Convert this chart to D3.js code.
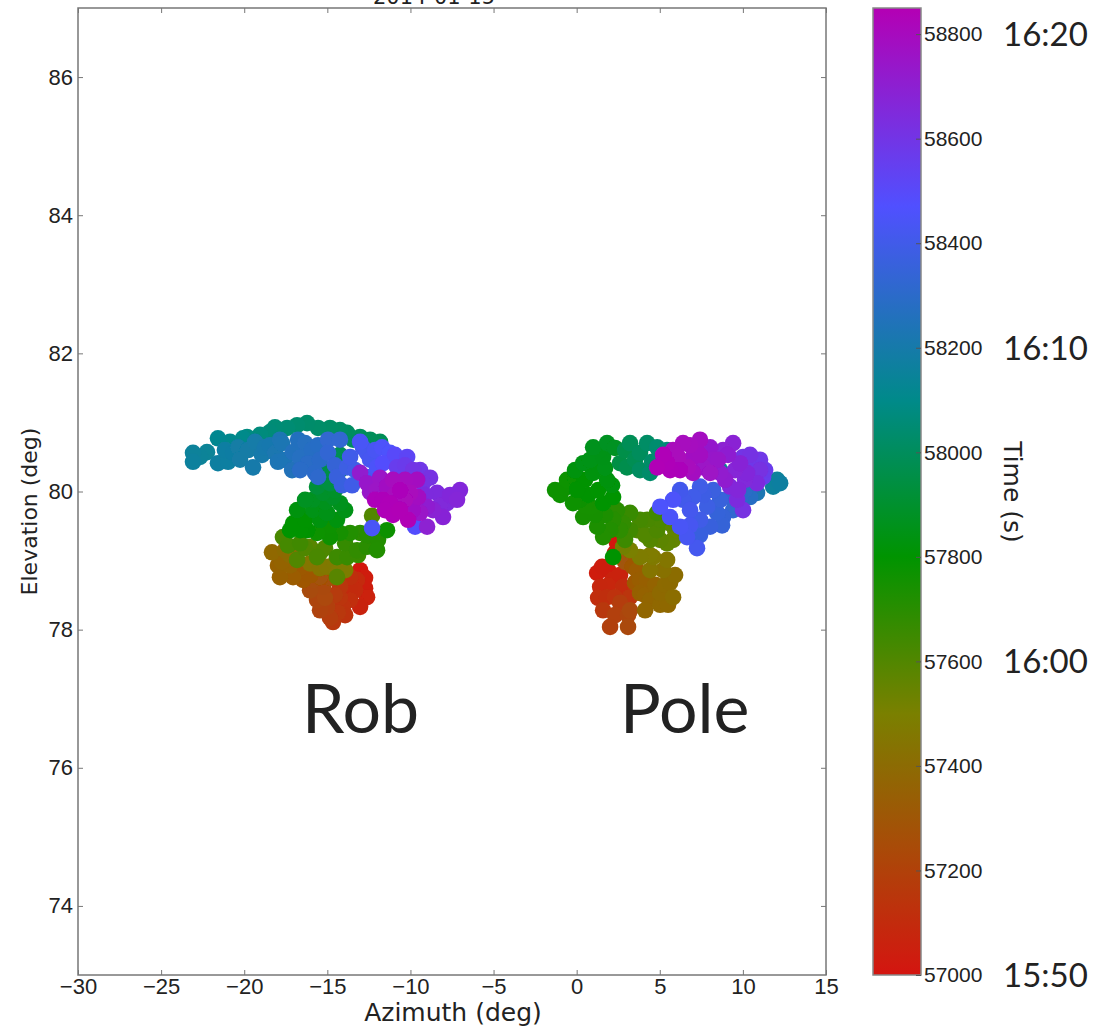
<!DOCTYPE html>
<html>
<head>
<meta charset="utf-8">
<script src="https://cdn.jsdelivr.net/npm/d3@7"></script>
<style>
  body { margin: 0; background: #fff; }
  svg text { fill: #222; }
</style>
</head>
<body>
<div id="chart"></div>
<script>
// azimuth / elevation / time (s) per detection
const robPoints = [
  [-13.03, 78.86, 57010], [-12.73, 78.75, 57030], [-12.61, 78.47, 57050], [-13.03, 78.33, 57070],
  [-13.21, 78.72, 57090], [-13.63, 78.57, 57100], [-13.63, 78.76, 57120], [-14.06, 78.33, 57130],
  [-14.24, 78.62, 57150], [-14.66, 78.11, 57160], [-14.84, 78.17, 57180], [-15.02, 78.33, 57200],
  [-15.62, 78.43, 57220], [-15.26, 78.62, 57240], [-15.86, 78.72, 57260], [-15.44, 78.76, 57280],
  [-16.46, 78.72, 57300], [-16.64, 78.89, 57310], [-17.06, 78.76, 57320], [-17.85, 78.76, 57340],
  [-17.73, 78.98, 57360], [-18.33, 79.12, 57380], [-17.55, 79.15, 57400], [-16.82, 79.11, 57420],
  [-16.04, 78.96, 57440], [-15.02, 78.91, 57460], [-14.42, 78.82, 57480],
  [-14.42, 78.76, 57580], [-16.04, 79.20, 57580], [-16.82, 79.01, 57600], [-15.44, 79.11, 57600],
  [-12.31, 79.65, 57600], [-17.67, 79.34, 57620], [-15.62, 79.05, 57620], [-16.64, 79.25, 57640],
  [-14.42, 79.05, 57650], [-13.81, 79.05, 57660], [-13.21, 79.15, 57680], [-12.61, 79.20, 57700],
  [-13.03, 79.40, 57700], [-12.01, 79.15, 57720], [-13.63, 79.40, 57720], [-14.24, 79.40, 57740],
  [-11.41, 79.44, 57760], [-14.84, 79.34, 57760], [-15.62, 79.40, 57780], [-16.22, 79.44, 57790],
  [-17.06, 79.54, 57800], [-16.82, 79.73, 57820], [-14.42, 79.59, 57830], [-15.86, 79.73, 57840],
  [-15.02, 79.69, 57850], [-14.24, 79.83, 57860], [-15.86, 79.88, 57870], [-14.66, 79.92, 57880],
  [-15.26, 79.98, 57890], [-15.62, 80.07, 57920], [-14.84, 80.12, 57940], [-15.14, 80.31, 57960],
  [-14.24, 80.53, 57980], [-11.83, 80.72, 57990], [-13.03, 80.79, 58000], [-13.81, 80.85, 58010],
  [-14.84, 80.92, 58020], [-16.22, 80.99, 58030], [-17.42, 80.92, 58050], [-18.45, 80.86, 58060],
  [-19.05, 80.82, 58070], [-19.83, 80.79, 58080], [-20.07, 80.77, 58100], [-20.85, 80.72, 58110],
  [-21.58, 80.77, 58120], [-22.24, 80.57, 58140], [-23.08, 80.56, 58150], [-23.08, 80.43, 58160],
  [-21.58, 80.41, 58170], [-20.67, 80.56, 58180], [-19.77, 80.60, 58190], [-19.47, 80.35, 58200],
  [-18.75, 80.64, 58210], [-18.15, 80.56, 58220], [-17.73, 80.70, 58230], [-17.55, 80.46, 58240],
  [-17.12, 80.31, 58250], [-17.06, 80.57, 58260], [-16.34, 80.70, 58270], [-15.92, 80.60, 58280],
  [-16.16, 80.41, 58290], [-15.74, 80.27, 58300], [-15.56, 80.21, 58310], [-14.96, 80.75, 58320],
  [-14.96, 80.56, 58330], [-14.42, 80.21, 58360], [-13.81, 80.35, 58380], [-13.63, 80.50, 58400],
  [-12.61, 80.56, 58420], [-12.61, 80.21, 58430], [-13.03, 80.72, 58440], [-12.31, 79.47, 58440],
  [-12.01, 80.35, 58450], [-11.23, 80.56, 58460], [-11.65, 80.41, 58480], [-9.72, 79.49, 58480],
  [-10.20, 80.50, 58520], [-10.81, 80.35, 58560], [-9.84, 80.31, 58600], [-9.24, 80.12, 58620],
  [-8.40, 79.98, 58640], [-7.80, 79.83, 58650], [-7.02, 80.02, 58660], [-7.20, 79.88, 58670],
  [-8.04, 79.63, 58680], [-8.64, 79.73, 58690], [-9.00, 79.49, 58700], [-9.00, 79.78, 58710],
  [-13.03, 80.27, 58720], [-12.61, 80.12, 58740], [-9.42, 79.69, 58750], [-12.01, 80.02, 58760],
  [-9.84, 79.73, 58770], [-11.41, 80.07, 58780], [-9.60, 80.17, 58790], [-11.05, 80.17, 58800],
  [-10.02, 79.98, 58810], [-10.63, 80.02, 58820], [-11.65, 79.88, 58825], [-11.23, 79.83, 58830],
  [-10.63, 79.73, 58840],
  // second pass, filling the dense parts
  [-22.66, 80.50, 58145], [-21.16, 80.60, 58175], [-20.37, 80.64, 58185], [-20.25, 80.46, 58188],
  [-20.97, 80.43, 58172], [-19.35, 80.72, 58195], [-18.93, 80.53, 58205], [-18.45, 80.67, 58215],
  [-17.97, 80.43, 58235], [-16.76, 80.75, 58265], [-16.64, 80.49, 58275], [-15.44, 80.46, 58295],
  [-15.56, 80.67, 58285], [-14.54, 80.38, 58340], [-14.24, 80.75, 58325], [-16.64, 80.31, 58292],
  [-17.85, 80.75, 58225],
  [-18.15, 80.93, 58055], [-16.82, 80.96, 58040], [-15.56, 80.92, 58025], [-14.24, 80.89, 58015],
  [-13.45, 80.75, 58005], [-12.43, 80.75, 57995],
  [-14.12, 80.09, 58365], [-13.33, 80.31, 58390], [-13.51, 80.09, 58395], [-12.43, 80.46, 58425],
  [-11.71, 80.64, 58455], [-10.93, 80.53, 58500], [-12.13, 80.60, 58435], [-12.85, 80.63, 58410],
  [-12.43, 79.99, 58745], [-11.83, 80.20, 58755], [-10.93, 79.95, 58805], [-10.33, 80.17, 58795],
  [-10.33, 79.88, 58815], [-9.54, 79.92, 58785], [-11.05, 79.66, 58835], [-10.14, 79.59, 58838],
  [-11.53, 79.73, 58832], [-12.13, 79.88, 58822], [-9.12, 79.95, 58640], [-8.82, 80.20, 58615],
  [-8.22, 79.80, 58655], [-7.62, 79.95, 58660], [-9.42, 80.31, 58590], [-10.33, 80.38, 58570],
  [-16.34, 79.59, 57805], [-16.64, 79.44, 57795], [-17.36, 79.22, 57630], [-15.44, 79.59, 57835],
  [-15.14, 79.85, 57865], [-16.34, 79.88, 57872], [-13.93, 79.73, 57855], [-14.84, 79.51, 57765],
  [-13.93, 79.25, 57670], [-15.14, 79.18, 57610], [-12.55, 79.37, 57705], [-11.95, 79.30, 57715],
  [-13.15, 79.08, 57665], [-14.54, 80.02, 57895], [-15.32, 80.19, 57930], [-14.24, 80.31, 57950],
  [-16.34, 79.18, 57605], [-17.24, 79.44, 57795],
  [-17.97, 78.93, 57350], [-17.24, 78.93, 57355], [-17.24, 79.08, 57395], [-16.04, 78.79, 57305],
  [-15.44, 78.89, 57445], [-14.54, 78.96, 57465], [-13.93, 78.86, 57485], [-14.84, 78.75, 57270],
  [-14.24, 78.46, 57140], [-13.63, 78.43, 57110], [-14.54, 78.50, 57170], [-15.14, 78.46, 57230],
  [-15.44, 78.28, 57210], [-16.04, 78.57, 57250], [-13.33, 78.57, 57095], [-12.73, 78.60, 57040],
  [-13.93, 78.21, 57135], [-14.36, 78.25, 57155]
];

const polePoints = [
  [2.43, 79.25, 57000], [2.31, 79.11, 57010], [1.23, 78.82, 57030], [1.53, 78.91, 57040],
  [2.19, 78.72, 57060], [1.41, 78.62, 57080], [2.79, 78.62, 57100], [1.83, 78.47, 57120],
  [3.21, 78.47, 57140], [1.59, 78.28, 57160], [2.61, 78.39, 57180], [2.01, 78.04, 57200],
  [3.09, 78.21, 57220], [3.09, 78.04, 57240],
  [3.39, 78.91, 57300], [3.63, 78.86, 57320], [4.24, 78.72, 57340], [3.81, 78.53, 57350],
  [4.42, 78.43, 57370], [5.02, 78.53, 57390], [5.62, 78.68, 57400], [5.80, 78.47, 57410],
  [5.20, 78.86, 57430], [5.44, 79.01, 57450], [4.60, 79.05, 57470], [3.81, 79.05, 57480],
  [3.21, 79.15, 57500], [2.79, 79.20, 57520],
  [5.80, 79.30, 57560], [5.44, 79.25, 57570], [5.62, 79.54, 57580], [4.42, 79.30, 57590],
  [3.63, 79.44, 57600], [4.84, 79.44, 57610], [4.24, 79.59, 57620], [4.84, 79.69, 57640],
  [3.21, 79.69, 57660], [2.79, 79.54, 57680], [2.43, 79.73, 57700], [2.19, 79.59, 57710],
  [1.59, 79.34, 57720], [1.23, 79.49, 57730], [0.39, 79.63, 57740], [0.81, 79.78, 57750],
  [0.20, 79.88, 57760], [-0.22, 79.83, 57765], [-1.30, 80.02, 57770], [-0.58, 80.17, 57780],
  [0.02, 80.02, 57790], [2.19, 79.05, 57790], [1.59, 79.83, 57800], [2.19, 79.92, 57810],
  [1.83, 80.17, 57820], [0.99, 80.27, 57830], [0.39, 80.41, 57840], [1.59, 80.50, 57850],
  [0.99, 80.64, 57860], [1.83, 80.70, 57870],
  [2.61, 80.41, 57950], [3.03, 80.35, 57970], [3.21, 80.70, 57990], [3.81, 80.56, 58000],
  [3.81, 80.31, 58010], [4.24, 80.70, 58020], [4.42, 80.27, 58030], [4.84, 80.64, 58040],
  [5.44, 80.60, 58060],
  [8.63, 80.31, 58120], [10.43, 80.24, 58140], [12.06, 80.17, 58150], [11.82, 80.07, 58160],
  [12.24, 80.12, 58170], [10.85, 79.98, 58230],
  [10.43, 79.92, 58280], [9.83, 79.88, 58300], [9.41, 79.73, 58320], [9.23, 79.92, 58330],
  [8.81, 79.63, 58340], [8.45, 79.69, 58350], [8.03, 79.49, 58360], [8.21, 80.02, 58370],
  [7.85, 79.78, 58380], [7.42, 80.07, 58390], [7.00, 79.92, 58400], [6.22, 80.02, 58410],
  [7.24, 79.18, 58420], [6.64, 79.34, 58430], [6.22, 79.49, 58440], [5.62, 79.63, 58450],
  [5.02, 79.78, 58460],
  [11.22, 80.21, 58560], [10.61, 80.35, 58580], [10.01, 80.50, 58600], [10.01, 79.73, 58620],
  [11.03, 80.31, 58620], [9.65, 79.88, 58640], [10.85, 80.12, 58640], [10.25, 80.27, 58660],
  [9.23, 80.07, 58660], [9.83, 80.41, 58680], [9.41, 80.70, 58690], [8.81, 80.60, 58700],
  [8.63, 80.27, 58720], [8.03, 80.64, 58730], [8.21, 80.46, 58740], [7.61, 80.35, 58760],
  [7.00, 80.50, 58780], [7.00, 80.27, 58790], [6.40, 80.70, 58800], [5.80, 80.60, 58810],
  [6.22, 80.31, 58820], [5.44, 80.41, 58830], [4.84, 80.35, 58840],
  // second pass, filling the dense parts
  [-1.00, 79.95, 57768], [-0.70, 80.05, 57775], [-0.10, 80.20, 57782], [0.50, 80.17, 57785],
  [0.70, 79.95, 57788], [1.29, 80.02, 57805], [-0.10, 80.31, 57833], [0.81, 80.46, 57845],
  [1.29, 80.38, 57838], [1.71, 80.34, 57842], [1.11, 79.66, 57745], [1.71, 79.66, 57725],
  [2.01, 79.44, 57718], [0.50, 79.80, 57752], [1.41, 80.60, 57855], [2.31, 80.63, 57872],
  [2.13, 80.09, 57815],
  [3.51, 80.46, 57980], [4.54, 80.43, 58025], [5.02, 80.53, 58050], [2.91, 80.60, 57960],
  [3.81, 79.59, 57630], [4.12, 79.37, 57600], [5.02, 79.59, 57615], [3.21, 79.44, 57640],
  [2.91, 79.30, 57650], [5.02, 79.30, 57575], [5.92, 79.44, 57560], [2.61, 79.44, 57690],
  [3.81, 78.72, 57330], [4.42, 78.86, 57440], [4.72, 78.65, 57360], [5.32, 78.65, 57395],
  [4.12, 78.50, 57355], [3.51, 78.68, 57310], [5.02, 78.36, 57380], [4.12, 78.28, 57375],
  [3.21, 78.28, 57235], [2.31, 78.21, 57195], [2.31, 78.47, 57125], [1.89, 78.64, 57075],
  [1.29, 78.46, 57110], [2.61, 78.79, 57065], [1.89, 78.86, 57045], [2.91, 78.98, 57290],
  [4.42, 79.08, 57475], [5.92, 78.79, 57405], [5.50, 78.36, 57385],
  [6.82, 79.73, 58415], [7.42, 79.59, 58395], [6.82, 79.51, 58425], [7.42, 79.37, 58365],
  [8.63, 79.88, 58355], [8.75, 79.51, 58345], [7.61, 79.95, 58385], [6.40, 79.88, 58408],
  [5.80, 79.88, 58455], [10.13, 80.02, 58290],
  [5.20, 80.53, 58835], [6.10, 80.50, 58812], [6.82, 80.67, 58795], [7.42, 80.53, 58785],
  [6.70, 80.35, 58805], [8.03, 80.27, 58765], [8.51, 80.46, 58745], [9.11, 80.53, 58705],
  [9.53, 80.31, 58675], [10.43, 80.53, 58610], [11.03, 80.46, 58590], [11.34, 80.31, 58570],
  [10.13, 80.17, 58655], [9.71, 80.02, 58665], [8.93, 80.17, 58715], [7.42, 80.75, 58790],
  [5.62, 80.31, 58825]
];

const azTicks = [-30, -25, -20, -15, -10, -5, 0, 5, 10, 15];
const elTicks = [74, 76, 78, 80, 82, 84, 86];
const timeTicks = [57000, 57200, 57400, 57600, 57800, 58000, 58200, 58400, 58600, 58800];
const clockTimes = [57000, 57600, 58200, 58800];
const clockLabels = ["15:50", "16:00", "16:10", "16:20"];
const colorStops = [57000, 57250, 57500, 57800, 58100, 58470, 58850];
const colorValues = ["#d41510", "#a84c08", "#7a8000", "#009400", "#008a8a", "#5050ff", "#b400b4"];
const sourceNames = ["Rob", "Pole"];
const sourceLabelPos = [[-13.0, 76.5], [6.5, 76.5]];

const width = 1100, height = 1027;
const plot = { left: 78, right: 826, top: 8, bottom: 975 };
const cbar = { left: 873, right: 921 };

const svg = d3.select("#chart").append("svg")
    .attr("width", width)
    .attr("height", height)
    .style("font-family", "'DejaVu Sans', sans-serif");

const x = d3.scaleLinear().domain([-30, 15]).range([plot.left, plot.right]);
const y = d3.scaleLinear().domain([73, 87]).range([plot.bottom, plot.top]);
const color = d3.scaleLinear().domain(colorStops).range(colorValues).clamp(true);
const yc = d3.scaleLinear().domain([57000, 58850]).range([plot.bottom, plot.top]);

// soft edge on the dots, like the resampled original
svg.append("defs").append("filter")
    .attr("id", "soft")
    .append("feGaussianBlur")
    .attr("stdDeviation", 0.5);

// title, cut off at the top like the original
svg.append("text")
    .attr("x", 434).attr("y", 4)
    .attr("text-anchor", "middle")
    .style("font-size", "21px")
    .text("2014-01-15");

// scatter points, drawn in time order so later ones sit on top
const dots = svg.append("g").attr("filter", "url(#soft)");
[robPoints, polePoints].forEach(pts => {
    dots.selectAll(null)
        .data(d3.sort(pts, d => d[2]))
        .enter().append("circle")
        .attr("cx", d => x(d[0]))
        .attr("cy", d => y(d[1]))
        .attr("r", 8.3)
        .attr("fill", d => color(d[2]));
});

// frame + inward ticks
const tickLen = 5;
function styleAxis(g, noLabels) {
    g.select(".domain").remove();
    g.selectAll(".tick line").attr("stroke", "#777");
    g.selectAll(".tick text").style("font-size", "22px").attr("fill", "#222");
    if (noLabels) g.selectAll(".tick text").remove();
}

svg.append("g")
    .attr("transform", `translate(0,${plot.bottom})`)
    .call(d3.axisBottom(x).tickValues(azTicks).tickSize(-tickLen).tickPadding(3))
    .call(g => styleAxis(g, false));
svg.append("g")
    .attr("transform", `translate(0,${plot.top})`)
    .call(d3.axisTop(x).tickValues(azTicks).tickSize(-tickLen))
    .call(g => styleAxis(g, true));
svg.append("g")
    .attr("transform", `translate(${plot.left},0)`)
    .call(d3.axisLeft(y).tickValues(elTicks).tickSize(-tickLen).tickPadding(5))
    .call(g => styleAxis(g, false));
svg.append("g")
    .attr("transform", `translate(${plot.right},0)`)
    .call(d3.axisRight(y).tickValues(elTicks).tickSize(-tickLen))
    .call(g => styleAxis(g, true));

svg.append("rect")
    .attr("x", plot.left).attr("y", plot.top)
    .attr("width", plot.right - plot.left)
    .attr("height", plot.bottom - plot.top)
    .attr("fill", "none")
    .attr("stroke", "#777")
    .attr("stroke-width", 1.5);

// axis labels
svg.append("text")
    .attr("x", 453).attr("y", 1021)
    .attr("text-anchor", "middle")
    .style("font-size", "25px")
    .text("Azimuth (deg)");

svg.append("text")
    .attr("transform", `translate(37,${(plot.top + plot.bottom) / 2 + 20}) rotate(-90)`)
    .attr("text-anchor", "middle")
    .style("font-size", "22px")
    .text("Elevation (deg)");

// source labels
svg.selectAll(".src")
    .data(sourceNames)
    .enter().append("text")
    .attr("class", "src")
    .attr("x", (d, i) => x(sourceLabelPos[i][0]))
    .attr("y", (d, i) => y(sourceLabelPos[i][1]))
    .attr("text-anchor", "middle")
    .style("font-family", "Lato, 'Open Sans', sans-serif")
    .style("font-size", "68px")
    .attr("fill", "#000")
    .text(d => d);

// colorbar
const grad = svg.select("defs").append("linearGradient")
    .attr("id", "cgrad")
    .attr("x1", 0).attr("y1", 1).attr("x2", 0).attr("y2", 0);
grad.selectAll("stop")
    .data(colorStops)
    .enter().append("stop")
    .attr("offset", d => (d - 57000) / (58850 - 57000))
    .attr("stop-color", d => color(d));

svg.append("rect")
    .attr("x", cbar.left).attr("y", plot.top)
    .attr("width", cbar.right - cbar.left)
    .attr("height", plot.bottom - plot.top)
    .attr("fill", "url(#cgrad)")
    .attr("stroke", "#888")
    .attr("stroke-width", 1.5);

svg.append("g")
    .attr("transform", `translate(${cbar.right},0)`)
    .call(d3.axisRight(yc).tickValues(timeTicks).tickFormat(d3.format("d")).tickSize(-5).tickPadding(3))
    .call(g => {
        g.select(".domain").remove();
        g.selectAll(".tick line").attr("stroke", "#555");
        g.selectAll(".tick text").style("font-size", "21px").attr("fill", "#222");
    });

svg.append("text")
    .attr("transform", `translate(1004,492) rotate(90)`)
    .attr("text-anchor", "middle")
    .style("font-size", "25px")
    .text("Time (s)");

// clock-time annotations next to the colorbar
svg.selectAll(".clock")
    .data(clockLabels)
    .enter().append("text")
    .attr("class", "clock")
    .attr("x", 1003)
    .attr("y", (d, i) => yc(clockTimes[i]))
    .attr("dy", "0.36em")
    .style("font-family", "Lato, 'Open Sans', sans-serif")
    .style("font-size", "33px")
    .attr("fill", "#000")
    .text(d => d);
</script>
</body>
</html>
